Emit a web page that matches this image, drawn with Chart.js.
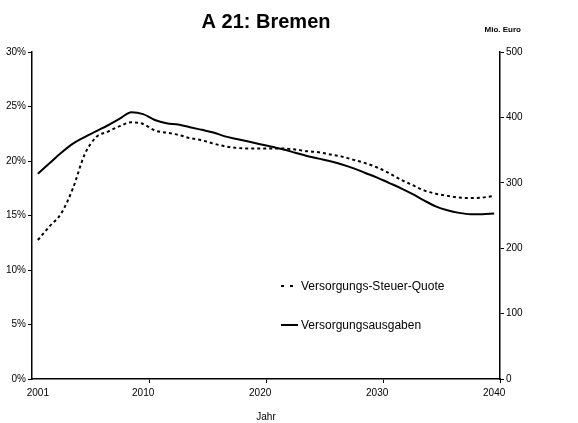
<!DOCTYPE html>
<html>
<head>
<meta charset="utf-8">
<script src="https://cdn.jsdelivr.net/npm/chart.js@4/dist/chart.umd.min.js"></script>
<style>
  html, body { margin: 0; padding: 0; background: #fff; }
  #wrap { width: 578px; height: 423px; }
</style>
</head>
<body>
<div id="wrap"><canvas id="chart" width="578" height="423"></canvas></div>
<script>
const years = [];
for (let y = 2001; y <= 2040; y++) years.push(String(y));
const shownYears = ["2001", "2010", "2020", "2030", "2040"];

// Versorgungs-Steuer-Quote in %, left axis
const quote = [12.75, 14.0, 15.2, 17.5, 20.6, 22.2, 22.7, 23.2, 23.55, 23.4,
  22.8, 22.6, 22.4, 22.1, 21.9, 21.6, 21.35, 21.2, 21.15, 21.15,
  21.15, 21.15, 21.05, 20.9, 20.8, 20.6, 20.4, 20.1, 19.8, 19.4,
  18.9, 18.3, 17.8, 17.3, 17.0, 16.8, 16.65, 16.6, 16.65, 16.8];

// Versorgungsausgaben in Mio. Euro, right axis
const ausgaben = [314, 330, 346, 360, 370, 379, 388, 398, 408, 405,
  396, 391, 389, 385, 381, 377, 371, 367, 363, 359,
  355, 351, 346, 341, 337, 333, 328, 322, 315, 308,
  300, 292, 283, 273, 264, 258, 254, 252, 252, 253];

const FONT = "'Liberation Sans', Arial, sans-serif";

// legend drawn inside the plot, plus the "Mio. Euro" unit label
const extras = {
  id: "extras",
  afterDraw(chart) {
    const c = chart.ctx;
    c.save();
    c.fillStyle = "#000";
    c.strokeStyle = "#000";
    c.textBaseline = "middle";
    c.font = "bold 8px " + FONT;
    c.textAlign = "right";
    c.fillText("Mio. Euro", 521, 30);

    c.font = "12px " + FONT;
    c.textAlign = "left";
    c.lineWidth = 2;
    c.setLineDash([3, 6]);
    c.beginPath(); c.moveTo(281, 286); c.lineTo(296, 286); c.stroke();
    c.setLineDash([]);
    c.beginPath(); c.moveTo(281, 325); c.lineTo(298, 325); c.stroke();
    c.fillText("Versorgungs-Steuer-Quote", 301, 287);
    c.fillText("Versorgungsausgaben", 301, 326);
    c.restore();
  }
};

new Chart(document.getElementById("chart"), {
  type: "line",
  data: {
    labels: years,
    datasets: [
      {
        label: "Versorgungs-Steuer-Quote",
        data: quote,
        yAxisID: "y",
        borderColor: "#000",
        borderWidth: 2,
        borderDash: [3, 3],
        pointRadius: 0,
        cubicInterpolationMode: "monotone"
      },
      {
        label: "Versorgungsausgaben",
        data: ausgaben,
        yAxisID: "y2",
        borderColor: "#000",
        borderWidth: 2,
        pointRadius: 0,
        cubicInterpolationMode: "monotone"
      }
    ]
  },
  options: {
    responsive: false,
    animation: false,
    layout: { padding: 0 },
    plugins: {
      legend: { display: false },
      tooltip: { enabled: false },
      title: {
        display: true,
        text: "A 21: Bremen",
        fullSize: false,
        color: "#000",
        font: { family: FONT, size: 20, weight: "bold" },
        padding: { top: 10, bottom: 18 }
      }
    },
    scales: {
      x: {
        offset: true,
        grid: {
          offset: true,
          drawOnChartArea: false,
          tickLength: 4,
          color: ctx => (ctx.type !== "tick" || [10, 20, 30].includes(ctx.index)) ? "#000" : "rgba(0,0,0,0)"
        },
        border: { color: "#000", width: 1.5 },
        ticks: {
          autoSkip: false,
          maxRotation: 0,
          color: "#000",
          padding: 4,
          font: { family: FONT, size: 10 },
          callback: function (v) {
            const lab = this.getLabelForValue(v);
            return shownYears.includes(lab) ? lab : "";
          }
        },
        title: {
          display: true,
          text: "Jahr",
          color: "#000",
          font: { family: FONT, size: 10 },
          padding: { top: 6, bottom: 0 }
        },
        afterFit: s => { s.height = 44; }
      },
      y: {
        position: "left",
        min: 0,
        max: 30,
        grid: { drawOnChartArea: false, tickLength: 4, color: "#000" },
        border: { color: "#000", width: 1.5 },
        ticks: {
          stepSize: 5,
          color: "#000",
          padding: 2,
          font: { family: FONT, size: 10 },
          callback: v => v + "%"
        },
        afterFit: s => { s.width = 32; }
      },
      y2: {
        position: "right",
        min: 0,
        max: 500,
        grid: { drawOnChartArea: false, tickLength: 4, color: "#000" },
        border: { color: "#000", width: 1.5 },
        ticks: {
          stepSize: 100,
          color: "#000",
          padding: 2,
          font: { family: FONT, size: 10 }
        },
        afterFit: s => { s.width = 78; }
      }
    }
  },
  plugins: [extras]
});
</script>
</body>
</html>
